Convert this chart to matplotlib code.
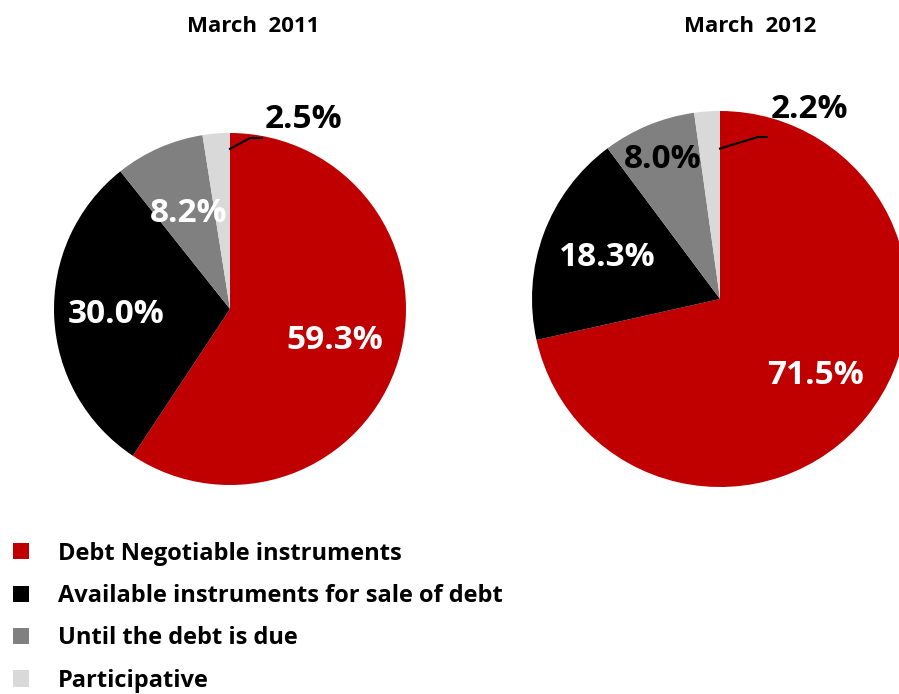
import matplotlib
matplotlib.use("Agg")
import matplotlib.pyplot as plt
import numpy as np

# data
categories = ["Debt Negotiable instruments", "Available instruments for sale of debt",
              "Until the debt is due", "Participative"]
share_2011 = [59.3, 30.0, 8.2, 2.5]
share_2012 = [71.5, 18.3, 8.0, 2.2]
titles = ["March  2011", "March  2012"]

colors = ["#C00000", "#000000", "#808080", "#D9D9D9"]

W, H = 899, 694
plt.rcParams['font.family'] = ['Open Sans', 'DejaVu Sans']

fig = plt.figure(figsize=(W / 100, H / 100), dpi=100)
ax = fig.add_axes([0, 0, 1, 1])

# pie layout in pixel space (y up)
pies = [
    dict(values=share_2011, center=(230, H - 309), r=176, explode=[0, 0, 0, 0.04],
         dist=[0.62, 0.65, 0.59], txtcol=["white", "white", "white"],
         title_xy=(253, H - 26),
         lead=[(0.91, None), (250, H - 138), (262, H - 138)], small_xy=(265, H - 119)),
    dict(values=share_2012, center=(720, H - 299), r=188, explode=[0, 0, 0, 0],
         dist=[0.65, 0.64, 0.80], txtcol=["white", "white", "black"],
         title_xy=(750, H - 26),
         lead=[(0.80, None), (758, H - 137), (767, H - 137)], small_xy=(771, H - 109)),
]

wedges_all = []
for p, title in zip(pies, titles):
    wedges, _ = ax.pie(p["values"], colors=colors, startangle=90, counterclock=False,
                       center=p["center"], radius=p["r"], explode=p["explode"],
                       wedgeprops=dict(linewidth=0), frame=True)
    wedges_all.append(wedges)
    cx, cy = p["center"]
    for w, v, d, c in zip(wedges[:3], p["values"][:3], p["dist"], p["txtcol"]):
        ang = np.deg2rad((w.theta1 + w.theta2) / 2)
        ax.text(cx + d * p["r"] * np.cos(ang), cy + d * p["r"] * np.sin(ang),
                f"{v:.1f}%", color=c, fontsize=24, fontweight="bold",
                ha="center", va="center")
    # small slice label with leader line
    f, _ = p["lead"][0]
    x0, y0 = cx, cy + f * p["r"]
    xs = [x0, p["lead"][1][0], p["lead"][2][0]]
    ys = [y0, p["lead"][1][1], p["lead"][2][1]]
    ax.plot(xs, ys, color="black", lw=1.5)
    ax.text(p["small_xy"][0], p["small_xy"][1], f"{p['values'][3]:.1f}%",
            color="black", fontsize=24, fontweight="bold", ha="left", va="center")
    ax.text(p["title_xy"][0], p["title_xy"][1], title, fontsize=16, fontweight="bold",
            ha="center", va="center")

ax.set_xlim(0, W)
ax.set_ylim(0, H)
ax.set_aspect("auto")
ax.axis("off")

fig.legend(wedges_all[0], categories, loc="upper left", bbox_to_anchor=(0.0, 1 - 529 / H),
           frameon=False, prop=dict(family=['Open Sans', 'DejaVu Sans'], weight="bold", size=17),
           handlelength=0.68, handleheight=0.68, handletextpad=1.25, labelspacing=0.78,
           borderpad=0.3, borderaxespad=0.23)

fig.savefig("out.png", dpi=100)
